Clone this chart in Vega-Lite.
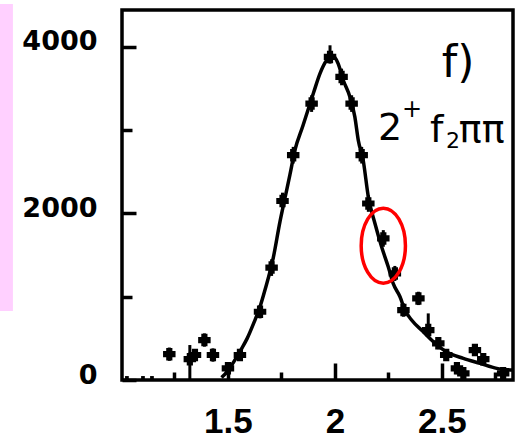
{
  "$schema": "https://vega.github.io/schema/vega-lite/v6.json",
  "width": 391,
  "height": 370,
  "autosize": {"type": "none"},
  "padding": {"left": 122, "top": 10, "right": 5, "bottom": 62},
  "background": "white",
  "config": {
    "view": {"stroke": "black", "strokeWidth": 3.5},
    "axis": {"domain": false, "grid": false, "tickColor": "black", "tickWidth": 3.5, "labelColor": "black", "labelFont": "DejaVu Sans"}
  },
  "layer": [
    {
      "data": {"values": [{"x": 0.4346, "x2": 0.4953, "y": 829, "y2": 4516}]},
      "mark": {"type": "rect", "color": "#ffd0ff"},
      "encoding": {
        "x": {"field": "x", "type": "quantitative", "scale": {"domain": [1.005, 2.832], "nice": false, "zero": false},
          "axis": {"values": [1.25, 1.5, 1.75, 2, 2.25, 2.5, 2.75], "title": null,
            "labelExpr": "datum.value == 1.5 ? '1.5' : datum.value == 2 ? '2' : datum.value == 2.5 ? '2.5' : ''",
            "tickSize": {"condition": {"test": "(datum.value * 2) % 1 === 0", "value": -17}, "value": -8},
            "labelFont": "Liberation Sans", "labelFontWeight": "bold",
            "labelFontSize": 35, "labelPadding": 41}},
        "x2": {"field": "x2"},
        "y": {"field": "y", "type": "quantitative", "scale": {"domain": [0, 4444], "nice": false},
          "axis": {"values": [0, 1000, 2000, 3000, 4000], "title": null,
            "labelExpr": "datum.value % 2000 === 0 ? format(datum.value, 'd') : ''",
            "tickSize": {"condition": {"test": "datum.value % 2000 === 0", "value": -14}, "value": -10},
            "labelFontSize": 27, "labelFontWeight": "bold", "labelPadding": 39, "labelOffset": -5}},
        "y2": {"field": "y2"}
      }
    },
    {
      "data": {"values": [
        {"x": 1.47, "y": 30}, {"x": 1.5, "y": 110}, {"x": 1.53, "y": 230}, {"x": 1.56, "y": 360},
        {"x": 1.59, "y": 500}, {"x": 1.62, "y": 680}, {"x": 1.65, "y": 880}, {"x": 1.673, "y": 1080},
        {"x": 1.712, "y": 1470}, {"x": 1.743, "y": 1900}, {"x": 1.766, "y": 2180}, {"x": 1.79, "y": 2470},
        {"x": 1.813, "y": 2760}, {"x": 1.85, "y": 3050}, {"x": 1.9, "y": 3450}, {"x": 1.93, "y": 3680},
        {"x": 1.961, "y": 3840}, {"x": 1.985, "y": 3900}, {"x": 2.015, "y": 3800}, {"x": 2.039, "y": 3600},
        {"x": 2.07, "y": 3400}, {"x": 2.093, "y": 3160}, {"x": 2.109, "y": 2880}, {"x": 2.132, "y": 2640},
        {"x": 2.156, "y": 2200}, {"x": 2.187, "y": 1880}, {"x": 2.218, "y": 1600}, {"x": 2.249, "y": 1360},
        {"x": 2.272, "y": 1160}, {"x": 2.304, "y": 1000}, {"x": 2.327, "y": 840}, {"x": 2.358, "y": 720},
        {"x": 2.413, "y": 580}, {"x": 2.46, "y": 460}, {"x": 2.52, "y": 340}, {"x": 2.6, "y": 260},
        {"x": 2.678, "y": 200}, {"x": 2.756, "y": 140}, {"x": 2.83, "y": 120}
      ]},
      "mark": {"type": "line", "color": "black", "strokeWidth": 3.5, "interpolate": "monotone"},
      "encoding": {
        "x": {"field": "x", "type": "quantitative"},
        "y": {"field": "y", "type": "quantitative"}
      }
    },
    {
      "data": {"name": "pts", "values": [
        {"x": 1.226, "y": 310, "lo": 230, "hi": 390},
        {"x": 1.322, "y": 250, "lo": 0, "hi": 420},
        {"x": 1.346, "y": 300, "lo": 230, "hi": 370},
        {"x": 1.39, "y": 480, "lo": 400, "hi": 560},
        {"x": 1.43, "y": 300, "lo": 220, "hi": 380},
        {"x": 1.5, "y": 140, "lo": 80, "hi": 200},
        {"x": 1.556, "y": 300, "lo": 240, "hi": 360},
        {"x": 1.65, "y": 820, "lo": 740, "hi": 900},
        {"x": 1.704, "y": 1350, "lo": 1250, "hi": 1450},
        {"x": 1.755, "y": 2150, "lo": 2050, "hi": 2250},
        {"x": 1.805, "y": 2700, "lo": 2600, "hi": 2800},
        {"x": 1.891, "y": 3320, "lo": 3220, "hi": 3420},
        {"x": 1.977, "y": 3880, "lo": 3800, "hi": 4020},
        {"x": 2.031, "y": 3640, "lo": 3540, "hi": 3740},
        {"x": 2.078, "y": 3320, "lo": 3220, "hi": 3420},
        {"x": 2.125, "y": 2700, "lo": 2600, "hi": 2800},
        {"x": 2.156, "y": 2120, "lo": 2020, "hi": 2220},
        {"x": 2.226, "y": 1700, "lo": 1600, "hi": 1800},
        {"x": 2.28, "y": 1280, "lo": 1190, "hi": 1370},
        {"x": 2.32, "y": 840, "lo": 760, "hi": 920},
        {"x": 2.39, "y": 980, "lo": 900, "hi": 1060},
        {"x": 2.436, "y": 600, "lo": 540, "hi": 800},
        {"x": 2.483, "y": 440, "lo": 370, "hi": 510},
        {"x": 2.52, "y": 300, "lo": 230, "hi": 370},
        {"x": 2.57, "y": 140, "lo": 70, "hi": 210},
        {"x": 2.6, "y": 80, "lo": 20, "hi": 140},
        {"x": 2.654, "y": 360, "lo": 290, "hi": 430},
        {"x": 2.693, "y": 250, "lo": 180, "hi": 320},
        {"x": 2.786, "y": 80, "lo": 20, "hi": 140}
      ]},
      "layer": [
        {
          "mark": {"type": "rule", "color": "black", "strokeWidth": 3},
          "encoding": {
            "x": {"field": "x", "type": "quantitative"},
            "y": {"field": "lo", "type": "quantitative"},
            "y2": {"field": "hi"}
          }
        },
        {
          "mark": {"type": "point", "shape": "cross", "filled": true, "color": "black", "stroke": "black", "strokeWidth": 2, "size": 110, "opacity": 1},
          "encoding": {
            "x": {"field": "x", "type": "quantitative"},
            "y": {"field": "y", "type": "quantitative"}
          }
        }
      ]
    },
    {
      "data": {"values": [{"x": 1.028, "y": 25}, {"x": 1.103, "y": 25}, {"x": 1.145, "y": 25}]},
      "mark": {"type": "point", "shape": "square", "filled": true, "color": "black", "size": 14, "opacity": 1},
      "encoding": {
        "x": {"field": "x", "type": "quantitative"},
        "y": {"field": "y", "type": "quantitative"}
      }
    },
    {
      "data": {"values": [{"x": 2.226, "y": 1613}]},
      "mark": {"type": "point", "shape": "M 0 -1 A 0.59 1 0 1 1 0 1 A 0.59 1 0 1 1 0 -1 Z", "filled": false, "color": "#ff0000", "strokeWidth": 3.5, "size": 5625, "opacity": 1},
      "encoding": {
        "x": {"field": "x", "type": "quantitative"},
        "y": {"field": "y", "type": "quantitative"}
      }
    },
    {
      "data": {"values": [{"x": 2.575, "y": 3640, "t": "f)"}]},
      "mark": {"type": "text", "font": "DejaVu Sans", "fontSize": 44, "align": "center", "baseline": "alphabetic", "color": "black"},
      "encoding": {
        "x": {"field": "x", "type": "quantitative"},
        "y": {"field": "y", "type": "quantitative"},
        "text": {"field": "t"}
      }
    },
    {
      "data": {"values": [{"x": 2.201, "y": 2883, "t": "2"}]},
      "mark": {"type": "text", "font": "DejaVu Sans", "fontSize": 38, "align": "left", "baseline": "alphabetic", "color": "black"},
      "encoding": {
        "x": {"field": "x", "type": "quantitative"},
        "y": {"field": "y", "type": "quantitative"},
        "text": {"field": "t"}
      }
    },
    {
      "data": {"values": [{"x": 2.36, "y": 3243, "t": "+"}]},
      "mark": {"type": "text", "font": "DejaVu Sans", "fontSize": 24, "align": "center", "baseline": "middle", "color": "black"},
      "encoding": {
        "x": {"field": "x", "type": "quantitative"},
        "y": {"field": "y", "type": "quantitative"},
        "text": {"field": "t"}
      }
    },
    {
      "data": {"values": [{"x": 2.444, "y": 2859, "t": "f"}, {"x": 2.579, "y": 2859, "t": "ππ"}]},
      "mark": {"type": "text", "font": "DejaVu Sans", "fontSize": 38, "align": "left", "baseline": "alphabetic", "color": "black"},
      "encoding": {
        "x": {"field": "x", "type": "quantitative"},
        "y": {"field": "y", "type": "quantitative"},
        "text": {"field": "t"}
      }
    },
    {
      "data": {"values": [{"x": 2.519, "y": 2787, "t": "2"}]},
      "mark": {"type": "text", "font": "DejaVu Sans", "fontSize": 22, "align": "left", "baseline": "alphabetic", "color": "black"},
      "encoding": {
        "x": {"field": "x", "type": "quantitative"},
        "y": {"field": "y", "type": "quantitative"},
        "text": {"field": "t"}
      }
    }
  ]
}
